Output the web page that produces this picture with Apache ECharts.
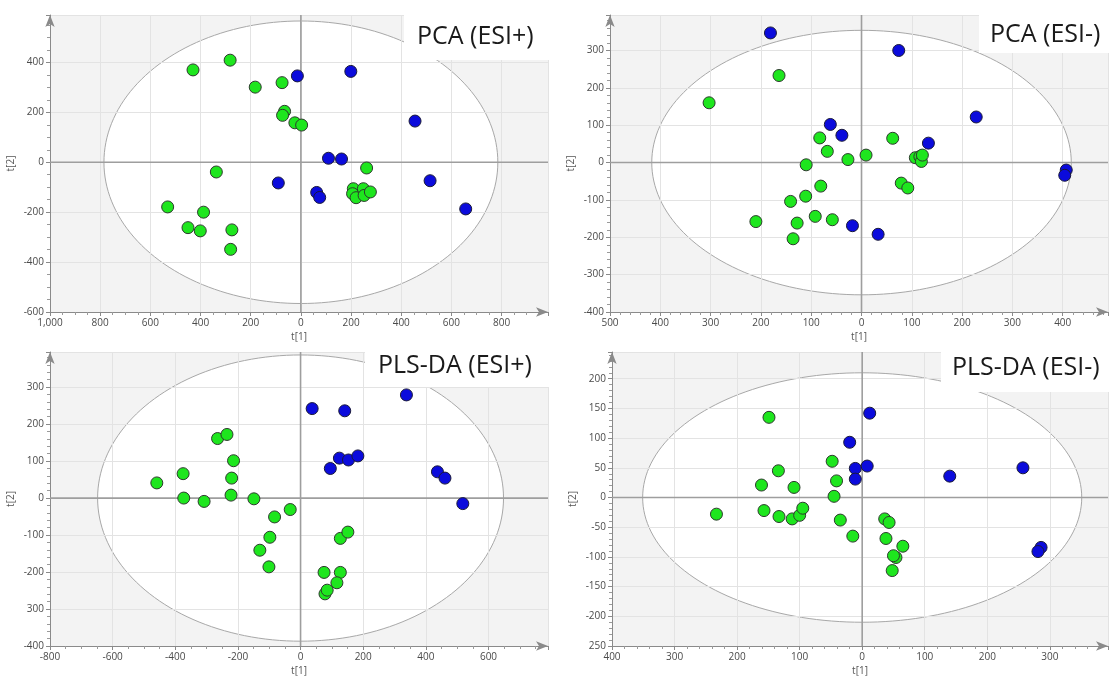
<!DOCTYPE html>
<html>
<head>
<meta charset="utf-8">
<script src="https://cdn.jsdelivr.net/npm/echarts@6/dist/echarts.min.js"></script>
<style>
html,body{margin:0;padding:0;background:#fff;}
#chart{width:1110px;height:677px;}
</style>
</head>
<body>
<div id="chart"></div>
<script>
// ---------- Data ----------
const panelTitles = ['PCA (ESI+)', 'PCA (ESI-)', 'PLS-DA (ESI+)', 'PLS-DA (ESI-)'];
const axisNameX = 't[1]';
const axisNameY = 't[2]';

// Panel 1 : PCA (ESI+)
const p1Green = [[-430,370],[-282,409],[-182,301],[-75,319],[-65,204],[-73,188],[-24,158],[3,149],
  [-337,-39],[-531,-179],[-388,-200],[-450,-262],[-401,-275],[-275,-271],[-280,-349],
  [262,-23],[209,-106],[206,-126],[220,-142],[249,-106],[252,-133],[277,-119]];
const p1Blue = [[-14,346],[199,364],[455,165],[110,16],[162,13],[-90,-83],[63,-121],[75,-141],[515,-74],[657,-187]];
// Panel 2 : PCA (ESI-)
const p2Green = [[-164,233],[-303,160],[-83,66],[-68,30],[-27,8],[9,20],[62,65],[-110,-6],[-81,-63],
  [-111,-90],[-141,-104],[-210,-158],[-128,-162],[-136,-204],[-92,-144],[-58,-153],[79,-55],[92,-68],
  [107,13],[116,16],[119,3],[121,20]];
const p2Blue = [[-181,347],[74,300],[-62,102],[-39,73],[228,122],[133,52],[407,-20],[404,-34],[-18,-169],[33,-192]];
// Panel 3 : PLS-DA (ESI+)
const p3Green = [[-459,41],[-375,66],[-373,0],[-308,-9],[-265,161],[-235,172],[-214,101],[-220,54],[-222,8],
  [-149,-2],[-83,-51],[-33,-31],[-98,-106],[-130,-141],[-101,-186],[127,-109],[151,-92],[75,-201],[127,-201],
  [116,-229],[78,-259],[85,-249]];
const p3Blue = [[37,242],[141,236],[338,279],[124,108],[153,103],[183,114],[95,80],[437,71],[461,54],[518,-15]];
// Panel 4 : PLS-DA (ESI-)
const p4Green = [[-149,135],[-134,45],[-161,21],[-109,17],[-48,61],[-41,28],[-45,2],[-233,-28],[-157,-22],
  [-133,-32],[-112,-36],[-100,-30],[-95,-18],[-35,-38],[-15,-65],[36,-36],[43,-42],[38,-69],[65,-82],
  [54,-101],[50,-98],[48,-123]];
const p4Blue = [[12,142],[-20,93],[-11,49],[8,53],[-11,31],[140,36],[257,50],[286,-84],[281,-91]];

// Hotelling ellipse radii (data units) per panel
const ellipseRadii = [[785,566],[417,354],[648,387],[351,210]];

// Axis ranges per panel
const xMin = [-1000,-500,-800,-400], xMax = [985,490,790,393], xStep = [200,100,200,100];
const yMin = [-600,-400,-400,-250], yMax = [590,395,395,245], yStep = [200,100,100,50];

// Tick labels (as printed on the reference)
const p1XTicks = [-1000,-800,-600,-400,-200,0,200,400,600,800];
const p1XLabels = ['1,000','800','600','400','200','0','200','400','600','800'];
const p1YTicks = [-600,-400,-200,0,200,400];
const p1YLabels = ['-600','-400','-200','0','200','400'];
const p2XTicks = [-500,-400,-300,-200,-100,0,100,200,300,400];
const p2XLabels = ['500','400','300','200','100','0','100','200','300','400'];
const p2YTicks = [-400,-300,-200,-100,0,100,200,300];
const p2YLabels = ['-400','-300','-200','-100','0','100','200','300'];
const p3XTicks = [-800,-600,-400,-200,0,200,400,600];
const p3XLabels = ['-800','-600','-400','-200','0','200','400','600'];
const p3YTicks = [-400,-300,-200,-100,0,100,200,300];
const p3YLabels = ['-400','300','-200','-100','0','100','200','300'];
const p4XTicks = [-400,-300,-200,-100,0,100,200,300];
const p4XLabels = ['400','300','200','100','0','100','200','300'];
const p4YTicks = [-250,-200,-150,-100,-50,0,50,100,150,200];
const p4YLabels = ['250','-200','-150','-100','-50','0','50','100','150','200'];

// ---------- Layout / style ----------
const grids = [
  {left:50, top:15, width:498, height:297},
  {left:610, top:15, width:498, height:297},
  {left:50, top:352, width:498, height:296},
  {left:612, top:352, width:496, height:296}
];
const xTickSets = [[p1XTicks,p1XLabels],[p2XTicks,p2XLabels],[p3XTicks,p3XLabels],[p4XTicks,p4XLabels]];
const yTickSets = [[p1YTicks,p1YLabels],[p2YTicks,p2YLabels],[p3YTicks,p3YLabels],[p4YTicks,p4YLabels]];
const xMinorSplit = [4,5,4,5];
const yMinorSplit = [4,5,5,5];
const greens = [p1Green,p2Green,p3Green,p4Green];
const blues = [p1Blue,p2Blue,p3Blue,p4Blue];

const FONT = 'Open Sans';
const GREEN = '#1ee61e', BLUE = '#0b0bdc';

function lookup(ticks, labels) {
  return function (v) {
    for (let i = 0; i < ticks.length; i++) if (Math.abs(ticks[i] - v) < 1e-6) return labels[i];
    return '';
  };
}

function axisCommon() {
  return {
    axisLine: {onZero:false, lineStyle:{color:'#8a8a8a', width:1}, symbol:['none','arrow'], symbolSize:[7,12]},
    axisTick: {length:4, lineStyle:{color:'#8a8a8a'}},
    minorTick: {show:true, length:3, lineStyle:{color:'#9a9a9a'}},
    splitLine: {show:true, lineStyle:{color:'#e3e3e3', width:1}},
    nameTextStyle: {fontFamily:FONT, fontSize:10, color:'#555'},
    z: 2
  };
}

const xAxes = [], yAxes = [], series = [], gridOpts = [];
for (let i = 0; i < 4; i++) {
  gridOpts.push(Object.assign({show:true, backgroundColor:'#f3f3f3', borderWidth:0}, grids[i]));
  const xa = axisCommon();
  Object.assign(xa, {
    type:'value', gridIndex:i, min:xMin[i], max:xMax[i], interval:xStep[i],
    name:axisNameX, nameLocation:'middle', nameGap:20,
    axisLabel:{fontFamily:FONT, fontSize:10, color:'#4a4a4a', margin:6, showMaxLabel:false,
      formatter: lookup(xTickSets[i][0], xTickSets[i][1])}
  });
  xa.minorTick.splitNumber = xMinorSplit[i];
  xAxes.push(xa);
  const ya = axisCommon();
  Object.assign(ya, {
    type:'value', gridIndex:i, min:yMin[i], max:yMax[i], interval:yStep[i],
    name:axisNameY, nameLocation:'middle', nameGap:34,
    axisLabel:{fontFamily:FONT, fontSize:10, color:'#4a4a4a', margin:6, showMaxLabel:false,
      formatter: lookup(yTickSets[i][0], yTickSets[i][1])}
  });
  ya.minorTick.splitNumber = yMinorSplit[i];
  yAxes.push(ya);

  const r = ellipseRadii[i];
  series.push({
    type:'custom', xAxisIndex:i, yAxisIndex:i, z:1, silent:true, animation:false,
    data:[[0,0]],
    renderItem: function (params, api) {
      const pts = [];
      for (let k = 0; k <= 180; k++) {
        const t = k / 180 * Math.PI * 2;
        pts.push(api.coord([r[0] * Math.cos(t), r[1] * Math.sin(t)]));
      }
      return {type:'polygon', shape:{points:pts}, style:{fill:'#ffffff', stroke:'#a8a8a8', lineWidth:1}};
    }
  });
  series.push({
    type:'custom', xAxisIndex:i, yAxisIndex:i, z:3, silent:true, animation:false,
    data:[[0,0]],
    renderItem: function (params, api) {
      const cs = params.coordSys;
      const o = api.coord([0,0]);
      const st = {stroke:'#9e9e9e', lineWidth:1.6};
      return {type:'group', children:[
        {type:'line', shape:{x1:o[0], y1:cs.y, x2:o[0], y2:cs.y + cs.height}, style:st},
        {type:'line', shape:{x1:cs.x, y1:o[1], x2:cs.x + cs.width, y2:o[1]}, style:st}
      ]};
    }
  });
  series.push({
    type:'scatter', xAxisIndex:i, yAxisIndex:i, z:5, animation:false,
    symbolSize:12, data:greens[i],
    itemStyle:{color:GREEN, borderColor:'#2d3a2d', borderWidth:1, opacity:1}
  });
  series.push({
    type:'scatter', xAxisIndex:i, yAxisIndex:i, z:6, animation:false,
    symbolSize:12, data:blues[i],
    itemStyle:{color:BLUE, borderColor:'#1a1a3a', borderWidth:1, opacity:1}
  });
}

const boxes = [
  {x:404, y:0, w:152, h:60, tx:417, ty:37},
  {x:979, y:0, w:131, h:53, tx:990, ty:35},
  {x:365, y:340, w:190, h:47, tx:378, ty:366},
  {x:941, y:340, w:169, h:52, tx:952, ty:368}
];
const graphics = [];
boxes.forEach(function (b, i) {
  graphics.push({type:'rect', z:20, silent:true, shape:{x:b.x, y:b.y, width:b.w, height:b.h}, style:{fill:'#ffffff'}});
  graphics.push({type:'text', z:21, silent:true, x:b.tx, y:b.ty,
    style:{text:panelTitles[i], fontFamily:FONT, fontSize:25, fill:'#1a1a1a', textVerticalAlign:'middle', textAlign:'left'}});
});

const chart = echarts.init(document.getElementById('chart'), null, {renderer:'canvas'});
chart.setOption({
  backgroundColor:'#ffffff',
  animation:false,
  grid:gridOpts,
  xAxis:xAxes,
  yAxis:yAxes,
  series:series,
  graphic:graphics
});
</script>
</body>
</html>
